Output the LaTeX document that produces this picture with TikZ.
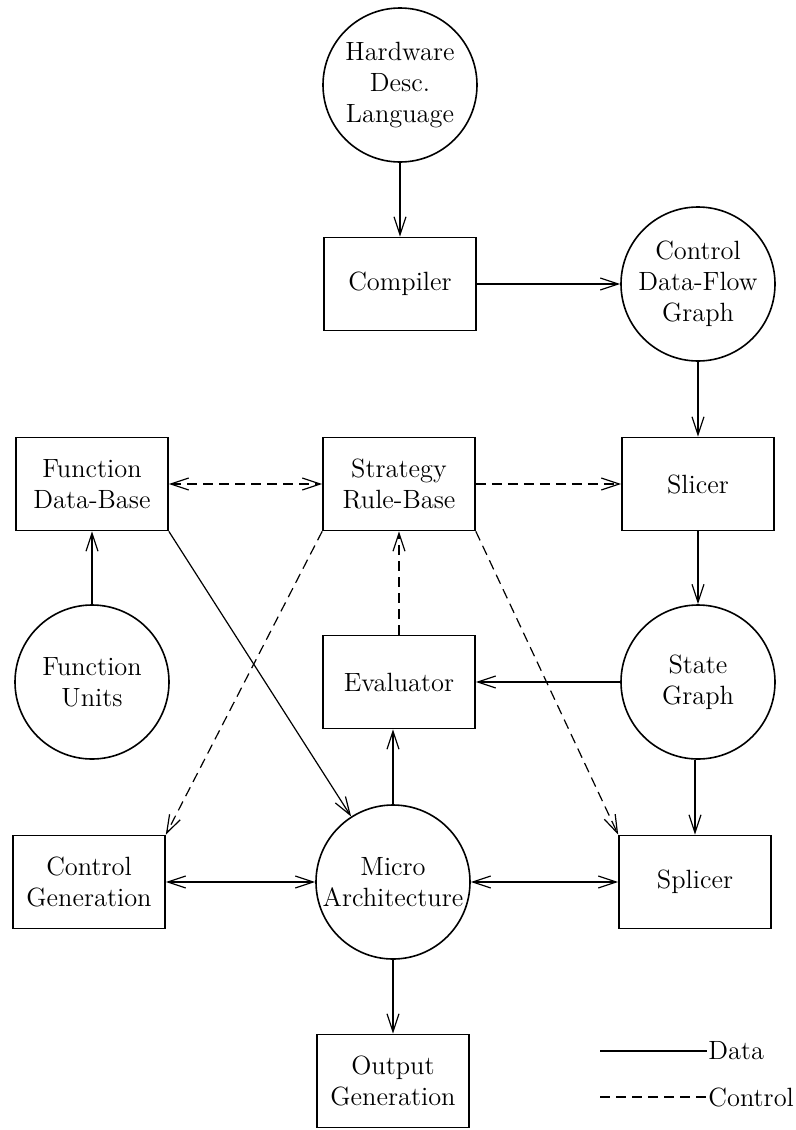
\documentclass[tikz,border=0pt]{standalone}
\usepackage{tikz}
\usetikzlibrary{shapes,arrows.meta}

\begin{document}
\begin{tikzpicture}[x=0.5pt,y=-0.5pt,>={Straight Barb[length=9pt,width=6pt]}]
	\tikzset{every node/.style={align=center,font=\fontsize{13.2}{15.5}\selectfont}}
	\tikzset{box/.style={draw,line width=.8pt,minimum width=76pt,minimum height=46.5pt,inner sep=2pt}}
	\tikzset{store/.style={draw,circle,line width=.8pt,minimum size=77pt,inner sep=0pt}}
	\tikzset{data/.style={line width=.6pt}}
	\tikzset{ctrl/.style={line width=.6pt,dash pattern=on 5pt off 3pt}}
	\useasboundingbox (0,0) rectangle (796,1130);
	\node[store] (hdl) at (400,85) {Hardware\\Desc.\\Language};
	\node[box] (compiler) at (400,284) {Compiler};
	\node[store] (cdfg) at (698,284) {Control\\Data-Flow\\Graph};
	\node[box] (fdb) at (92,484) {Function\\Data-Base};
	\node[box] (srb) at (399,484) {Strategy\\Rule-Base};
	\node[box] (slicer) at (698,484) {Slicer};
	\node[store] (funits) at (92,682) {Function\\Units};
	\node[box] (eval) at (399,682) {Evaluator};
	\node[store] (state) at (698,682) {State\\Graph};
	\node[box] (cgen) at (89,882) {Control\\Generation};
	\node[store] (micro) at (393,882) {Micro\\Architecture};
	\node[box] (splicer) at (695,882) {Splicer};
	\node[box] (ogen) at (393,1081) {Output\\Generation};
	\node[anchor=west,inner sep=0.5pt] (datakey) at (707,1051) {Data};
	\node[anchor=west,inner sep=0.5pt] (ctrlkey) at (707,1097) {Control};
	\coordinate (datafrom) at (600,1051);
	\coordinate (ctrlfrom) at (600,1097);
	\draw[data,->] (hdl) -- (compiler);
	\draw[data,->] (compiler) -- (cdfg);
	\draw[data,->] (cdfg) -- (slicer);
	\draw[data,->] (slicer) -- (state);
	\draw[data,->] (state) -- (eval);
	\draw[data,->] (state.south -| splicer) -- (splicer);
	\draw[data,->] (funits) -- (fdb);
	\draw[data,->] (fdb.south east) -- (micro);
	\draw[data,->] (micro) -- (micro |- eval.south);
	\draw[data,<->] (cgen) -- (micro);
	\draw[data,<->] (micro) -- (splicer);
	\draw[data,->] (micro) -- (ogen);
	\draw[ctrl,<->] (fdb) -- (srb);
	\draw[ctrl,->] (srb) -- (slicer);
	\draw[ctrl,->] (eval) -- (srb);
	\draw[ctrl,->] (srb.south west) -- (cgen.north east);
	\draw[ctrl,->] (srb.south east) -- (splicer.north west);
	\draw[data] (datafrom) -- (datakey.west);
	\draw[ctrl] (ctrlfrom) -- (ctrlkey.west);
\end{tikzpicture}
\end{document}
